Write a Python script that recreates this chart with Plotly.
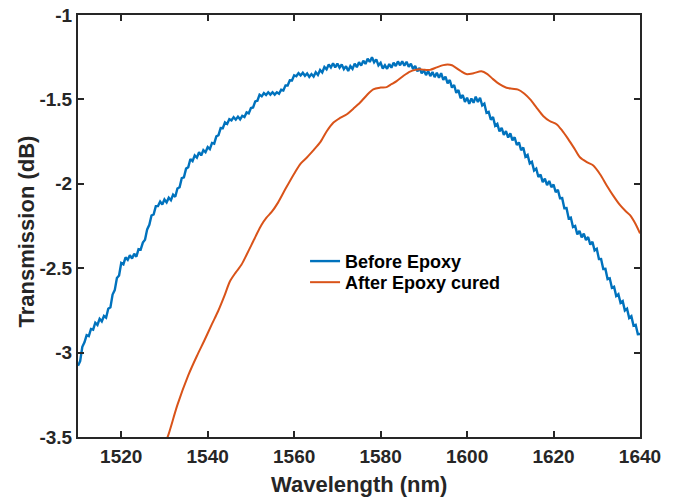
import plotly.graph_objects as go

# Before Epoxy (measured at 0.5 nm steps)
wl_before = [
    1510.0, 1510.5, 1511.0, 1511.5, 1512.0, 1512.5, 1513.0, 1513.5, 1514.0, 1514.5,
    1515.0, 1515.5, 1516.0, 1516.5, 1517.0, 1517.5, 1518.0, 1518.5, 1519.0, 1519.5,
    1520.0, 1520.5, 1521.0, 1521.5, 1522.0, 1522.5, 1523.0, 1523.5, 1524.0, 1524.5,
    1525.0, 1525.5, 1526.0, 1526.5, 1527.0, 1527.5, 1528.0, 1528.5, 1529.0, 1529.5,
    1530.0, 1530.5, 1531.0, 1531.5, 1532.0, 1532.5, 1533.0, 1533.5, 1534.0, 1534.5,
    1535.0, 1535.5, 1536.0, 1536.5, 1537.0, 1537.5, 1538.0, 1538.5, 1539.0, 1539.5,
    1540.0, 1540.5, 1541.0, 1541.5, 1542.0, 1542.5, 1543.0, 1543.5, 1544.0, 1544.5,
    1545.0, 1545.5, 1546.0, 1546.5, 1547.0, 1547.5, 1548.0, 1548.5, 1549.0, 1549.5,
    1550.0, 1550.5, 1551.0, 1551.5, 1552.0, 1552.5, 1553.0, 1553.5, 1554.0, 1554.5,
    1555.0, 1555.5, 1556.0, 1556.5, 1557.0, 1557.5, 1558.0, 1558.5, 1559.0, 1559.5,
    1560.0, 1560.5, 1561.0, 1561.5, 1562.0, 1562.5, 1563.0, 1563.5, 1564.0, 1564.5,
    1565.0, 1565.5, 1566.0, 1566.5, 1567.0, 1567.5, 1568.0, 1568.5, 1569.0, 1569.5,
    1570.0, 1570.5, 1571.0, 1571.5, 1572.0, 1572.5, 1573.0, 1573.5, 1574.0, 1574.5,
    1575.0, 1575.5, 1576.0, 1576.5, 1577.0, 1577.5, 1578.0, 1578.5, 1579.0, 1579.5,
    1580.0, 1580.5, 1581.0, 1581.5, 1582.0, 1582.5, 1583.0, 1583.5, 1584.0, 1584.5,
    1585.0, 1585.5, 1586.0, 1586.5, 1587.0, 1587.5, 1588.0, 1588.5, 1589.0, 1589.5,
    1590.0, 1590.5, 1591.0, 1591.5, 1592.0, 1592.5, 1593.0, 1593.5, 1594.0, 1594.5,
    1595.0, 1595.5, 1596.0, 1596.5, 1597.0, 1597.5, 1598.0, 1598.5, 1599.0, 1599.5,
    1600.0, 1600.5, 1601.0, 1601.5, 1602.0, 1602.5, 1603.0, 1603.5, 1604.0, 1604.5,
    1605.0, 1605.5, 1606.0, 1606.5, 1607.0, 1607.5, 1608.0, 1608.5, 1609.0, 1609.5,
    1610.0, 1610.5, 1611.0, 1611.5, 1612.0, 1612.5, 1613.0, 1613.5, 1614.0, 1614.5,
    1615.0, 1615.5, 1616.0, 1616.5, 1617.0, 1617.5, 1618.0, 1618.5, 1619.0, 1619.5,
    1620.0, 1620.5, 1621.0, 1621.5, 1622.0, 1622.5, 1623.0, 1623.5, 1624.0, 1624.5,
    1625.0, 1625.5, 1626.0, 1626.5, 1627.0, 1627.5, 1628.0, 1628.5, 1629.0, 1629.5,
    1630.0, 1630.5, 1631.0, 1631.5, 1632.0, 1632.5, 1633.0, 1633.5, 1634.0, 1634.5,
    1635.0, 1635.5, 1636.0, 1636.5, 1637.0, 1637.5, 1638.0, 1638.5, 1639.0, 1639.5,
    1640.0,
]
t_before = [
    -3.078, -3.050, -2.966, -2.939, -2.897, -2.902, -2.860, -2.864, -2.823, -2.836,
    -2.800, -2.815, -2.783, -2.793, -2.740, -2.732, -2.656, -2.630, -2.558, -2.543,
    -2.469, -2.477, -2.436, -2.450, -2.423, -2.443, -2.414, -2.432, -2.387, -2.390,
    -2.348, -2.332, -2.270, -2.243, -2.188, -2.181, -2.132, -2.132, -2.105, -2.123,
    -2.093, -2.110, -2.082, -2.097, -2.064, -2.077, -2.028, -2.020, -1.967, -1.962,
    -1.910, -1.902, -1.853, -1.866, -1.832, -1.845, -1.813, -1.832, -1.800, -1.813,
    -1.783, -1.795, -1.758, -1.762, -1.719, -1.712, -1.670, -1.671, -1.636, -1.645,
    -1.617, -1.624, -1.605, -1.620, -1.602, -1.618, -1.597, -1.604, -1.577, -1.583,
    -1.551, -1.548, -1.512, -1.508, -1.472, -1.482, -1.463, -1.474, -1.458, -1.472,
    -1.458, -1.472, -1.458, -1.467, -1.443, -1.447, -1.417, -1.418, -1.387, -1.388,
    -1.357, -1.363, -1.344, -1.358, -1.342, -1.360, -1.346, -1.367, -1.350, -1.365,
    -1.339, -1.355, -1.326, -1.341, -1.308, -1.322, -1.293, -1.311, -1.286, -1.310,
    -1.288, -1.312, -1.293, -1.321, -1.303, -1.332, -1.303, -1.319, -1.288, -1.309,
    -1.280, -1.300, -1.271, -1.290, -1.259, -1.278, -1.250, -1.280, -1.263, -1.298,
    -1.283, -1.317, -1.298, -1.319, -1.291, -1.312, -1.283, -1.302, -1.275, -1.298,
    -1.274, -1.300, -1.277, -1.307, -1.288, -1.320, -1.302, -1.333, -1.314, -1.346,
    -1.327, -1.356, -1.332, -1.362, -1.338, -1.368, -1.342, -1.372, -1.345, -1.384,
    -1.365, -1.405, -1.385, -1.430, -1.415, -1.461, -1.445, -1.493, -1.474, -1.515,
    -1.490, -1.526, -1.495, -1.520, -1.484, -1.515, -1.490, -1.536, -1.525, -1.580,
    -1.574, -1.620, -1.605, -1.656, -1.645, -1.690, -1.669, -1.710, -1.688, -1.726,
    -1.701, -1.743, -1.724, -1.770, -1.755, -1.801, -1.785, -1.840, -1.829, -1.880,
    -1.870, -1.921, -1.910, -1.960, -1.946, -1.990, -1.970, -2.008, -1.983, -2.020,
    -2.004, -2.050, -2.035, -2.086, -2.085, -2.145, -2.144, -2.205, -2.200, -2.256,
    -2.250, -2.300, -2.279, -2.318, -2.295, -2.334, -2.315, -2.360, -2.344, -2.395,
    -2.385, -2.446, -2.445, -2.505, -2.504, -2.565, -2.560, -2.616, -2.610, -2.665,
    -2.654, -2.705, -2.695, -2.751, -2.740, -2.795, -2.784, -2.840, -2.835, -2.891,
    -2.890,
]

# After Epoxy cured
wl_after = [
    1530.0, 1531.0, 1533.0, 1535.5, 1537.5, 1539.2, 1541.0, 1542.4, 1544.0, 1545.1,
    1546.5, 1547.8, 1549.0, 1550.1, 1551.3, 1552.4, 1553.6, 1554.8, 1556.3, 1558.0,
    1560.0, 1561.5, 1563.0, 1564.5, 1566.0, 1567.5, 1569.1, 1570.6, 1572.2, 1573.7,
    1575.2, 1576.8, 1578.3, 1580.0, 1581.4, 1582.5, 1583.7, 1585.3, 1586.8, 1588.0,
    1589.1, 1590.3, 1591.4, 1593.0, 1594.5, 1595.5, 1596.5, 1598.4, 1599.8, 1601.5,
    1603.3, 1604.7, 1606.0, 1607.5, 1609.1, 1610.5, 1611.8, 1613.2, 1614.6, 1616.1,
    1617.6, 1619.1, 1620.7, 1622.0, 1623.4, 1624.8, 1626.1, 1627.7, 1629.2, 1630.8,
    1632.3, 1633.8, 1635.4, 1636.6, 1637.7, 1639.0, 1640.0,
]
t_after = [
    -3.55, -3.48, -3.31, -3.135, -3.02, -2.93, -2.83, -2.755, -2.655, -2.58,
    -2.525, -2.48, -2.42, -2.363, -2.30, -2.245, -2.20, -2.167, -2.11, -2.03,
    -1.94, -1.88, -1.843, -1.80, -1.755, -1.69, -1.637, -1.61, -1.588, -1.555,
    -1.52, -1.475, -1.44, -1.43, -1.427, -1.41, -1.392, -1.36, -1.335, -1.325,
    -1.322, -1.325, -1.325, -1.31, -1.297, -1.293, -1.298, -1.33, -1.35, -1.345,
    -1.333, -1.35, -1.38, -1.41, -1.431, -1.437, -1.442, -1.465, -1.50, -1.55,
    -1.598, -1.628, -1.647, -1.685, -1.735, -1.79, -1.843, -1.872, -1.892, -1.945,
    -2.01, -2.07, -2.127, -2.16, -2.186, -2.24, -2.294,
]

x_ticks = [1520, 1540, 1560, 1580, 1600, 1620, 1640]
y_ticks = [-3.5, -3, -2.5, -2, -1.5, -1]
y_tick_text = ["-3.5", "-3", "-2.5", "-2", "-1.5", "-1"]

FONT = "Liberation Sans, Arial, sans-serif"
INK = "#262626"

fig = go.Figure()
fig.add_trace(go.Scatter(
    x=wl_before, y=t_before, mode="lines", name="<b>Before Epoxy</b>",
    line=dict(color="#0072BD", width=2.4), legend="legend",
))
fig.add_trace(go.Scatter(
    x=wl_after, y=t_after, mode="lines", name="<b>After Epoxy cured</b>",
    line=dict(color="#D95319", width=2, shape="spline", smoothing=0.8),
    legend="legend2",
))

axis_common = dict(
    showline=True, linecolor=INK, linewidth=2, mirror="ticks",
    ticks="inside", ticklen=6, tickwidth=2, tickcolor=INK,
    showgrid=False, zeroline=False, automargin=False,
    tickfont=dict(family=FONT, size=19, color=INK, weight="bold"),
)

legend_common = dict(
    xanchor="left", yanchor="top",
    bgcolor="rgba(0,0,0,0)", borderwidth=0,
    font=dict(family=FONT, size=18, color="#000000"),
    itemwidth=30,
)

fig.update_layout(
    width=677, height=500,
    margin=dict(l=78, r=37, t=15, b=63),
    paper_bgcolor="white", plot_bgcolor="white",
    showlegend=True,
    legend=dict(x=0.404, y=0.46, **legend_common),
    legend2=dict(x=0.404, y=0.41, **legend_common),
    xaxis=dict(
        range=[1510, 1640], tickvals=x_ticks,
        ticklabelstandoff=1,
        **axis_common,
    ),
    yaxis=dict(
        range=[-3.5, -1], tickvals=y_ticks, ticktext=y_tick_text,
        ticklabelstandoff=0,
        **axis_common,
    ),
    annotations=[
        dict(text="<b>Wavelength (nm)</b>", xref="paper", yref="paper",
             x=0.5, y=-0.1137, xanchor="center", yanchor="middle",
             showarrow=False, font=dict(family=FONT, size=22, color=INK)),
        dict(text="<b>Transmission (dB)</b>", xref="paper", yref="paper",
             x=-0.0925, y=0.487, xanchor="center", yanchor="middle",
             textangle=-90, showarrow=False,
             font=dict(family=FONT, size=22, color=INK)),
    ],
)

fig.write_html("out.html")
